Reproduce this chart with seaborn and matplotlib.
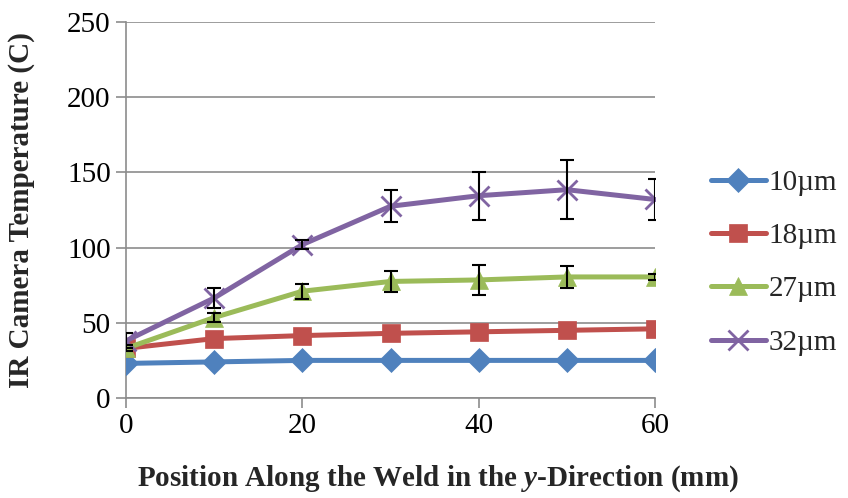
import matplotlib
matplotlib.use('Agg')
import matplotlib.pyplot as plt
import numpy as np
import pandas as pd
import seaborn as sns

# Data
position = [0, 10, 20, 30, 40, 50, 60]
series_names = ['10\u00b5m', '18\u00b5m', '27\u00b5m', '32\u00b5m']
temp_10 = [23, 24, 25, 25, 25, 25, 25]
temp_18 = [33, 39.5, 41.5, 43, 44, 45, 46]
temp_27 = [33, 53.5, 71, 77.5, 78.5, 80.5, 80.5]
temp_32 = [38, 66.5, 102, 127.5, 134.5, 138.5, 132]
err_27 = [2, 3, 5, 7, 10, 7.5, 2]
err_32 = [5, 6.5, 3, 10.5, 16, 19.5, 13.5]

colors = ['#4F81BD', '#C0504D', '#9BBB59', '#8064A2']
markers = ['D', 's', '^', 'x']
sizes = [12, 13, 13, 15]

df = pd.DataFrame({
    'Position': position * 4,
    'Temperature': temp_10 + temp_18 + temp_27 + temp_32,
    'Series': np.repeat(series_names, len(position)),
})

sns.set_theme(style='white')
plt.rcParams['font.family'] = ['Liberation Serif', 'DejaVu Serif']
plt.rcParams['mathtext.fontset'] = 'custom'
plt.rcParams['mathtext.bfit'] = 'Liberation Serif:italic:bold'
plt.rcParams['mathtext.it'] = 'Liberation Serif:italic'
plt.rcParams['mathtext.rm'] = 'Liberation Serif'

fig = plt.figure(figsize=(8.48, 4.98), dpi=100)
ax = fig.add_axes([0.1486, 0.2008, 0.6238, 0.755])

for name, col, mk, ms in zip(series_names, colors, markers, sizes):
    sub = df[df['Series'] == name]
    sns.lineplot(data=sub, x='Position', y='Temperature', ax=ax, color=col,
                 marker=mk, markersize=ms, linewidth=3.6,
                 markeredgecolor=col, markeredgewidth=2 if mk == 'x' else 0.5,
                 label=name, zorder=3)

# error bars on the two thickest coatings
ax.errorbar(position, temp_27, yerr=err_27, fmt='none', ecolor='black',
            elinewidth=1.5, capsize=5, capthick=1.5, zorder=4)
ax.errorbar(position, temp_32, yerr=err_32, fmt='none', ecolor='black',
            elinewidth=1.5, capsize=5, capthick=1.5, zorder=4)

ax.set_xlim(0, 60)
ax.set_ylim(0, 250)
ax.set_xticks([0, 20, 40, 60])
ax.set_yticks([0, 50, 100, 150, 200, 250])
ax.yaxis.grid(True, color='#8C8C8C', linewidth=1.2)
ax.xaxis.grid(False)
ax.set_axisbelow(True)

for s in ['top', 'right']:
    ax.spines[s].set_visible(False)
for s in ['left', 'bottom']:
    ax.spines[s].set_color('#8C8C8C')
    ax.spines[s].set_linewidth(1.2)

ax.tick_params(axis='both', which='major', labelsize=21, direction='out',
               length=7, width=1.2, color='#8C8C8C', labelcolor='black',
               left=True, bottom=True, pad=4)

ax.set_xlabel(r'Position Along the Weld in the $\mathbfit{y}$-Direction (mm)',
              fontsize=21, fontweight='bold', labelpad=17)
ax.xaxis.label.set_x(0.59)
ax.set_ylabel('IR Camera Temperature (C)', fontsize=21, fontweight='bold',
              labelpad=23)

leg = ax.legend(loc='center left', bbox_to_anchor=(1.083, 0.36), frameon=False,
                fontsize=21, handlelength=1.9, handletextpad=0.1,
                labelspacing=0.92, borderaxespad=0)

fig.savefig('out.png', dpi=100)
